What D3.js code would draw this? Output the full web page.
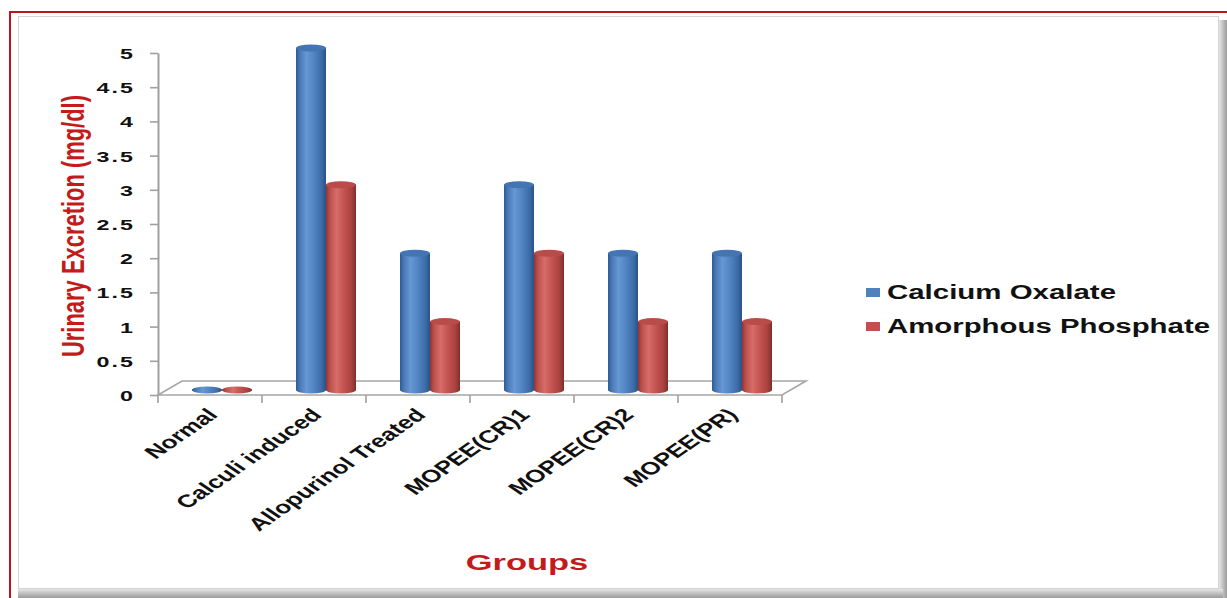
<!DOCTYPE html>
<html><head><meta charset="utf-8">
<script src="https://cdn.jsdelivr.net/npm/d3@7"></script>
<style>html,body{margin:0;padding:0;background:#fff;}svg{display:block;}</style>
</head><body>
<script>
const categories = ["Normal","Calculi induced","Allopurinol Treated","MOPEE(CR)1","MOPEE(CR)2","MOPEE(PR)"];
const seriesNames = ["Calcium Oxalate","Amorphous Phosphate"];
const calciumOxalate = [0,5,2,3,2,2];
const amorphousPhosphate = [0,3,1,2,1,1];
const yTickValues = [0,0.5,1,1.5,2,2.5,3,3.5,4,4.5,5];
const yTickLabels = ["0","0.5","1","1.5","2","2.5","3","3.5","4","4.5","5"];

const W = 1227, H = 598, SX = 1.45;
const svg = d3.select("body").append("svg").attr("width", W).attr("height", H);
const defs = svg.append("defs");

function cyl(id, stops){
  const g = defs.append("linearGradient").attr("id", id).attr("x1","0").attr("x2","1").attr("y1","0").attr("y2","0");
  stops.forEach(s => g.append("stop").attr("offset", s[0]).attr("stop-color", s[1]));
}
cyl("gBlue", [["0%","#2e5a92"],["12%","#4777b6"],["35%","#6797d3"],["60%","#5084c2"],["85%","#3c6ca8"],["100%","#2a5186"]]);
cyl("gRed", [["0%","#8e3532"],["12%","#bb4d4a"],["35%","#d66d69"],["60%","#c4534f"],["85%","#a8423f"],["100%","#7e2f2c"]]);
const bg = defs.append("linearGradient").attr("id","shB").attr("x1","0").attr("x2","0").attr("y1","0").attr("y2","1");
bg.append("stop").attr("offset","0%").attr("stop-color","#e6e6e6");
bg.append("stop").attr("offset","100%").attr("stop-color","#9a9a9a");
const rg = defs.append("linearGradient").attr("id","shR").attr("x1","0").attr("x2","1").attr("y1","0").attr("y2","0");
rg.append("stop").attr("offset","0%").attr("stop-color","#e6e6e6");
rg.append("stop").attr("offset","100%").attr("stop-color","#9a9a9a");

// frame
svg.append("rect").attr("x",1219).attr("y",20).attr("width",8).attr("height",578).attr("fill","url(#shR)");
svg.append("rect").attr("x",18).attr("y",589).attr("width",1205).attr("height",9).attr("fill","url(#shB)");
svg.append("rect").attr("x",18.5).attr("y",16.5).attr("width",1200).attr("height",572).attr("fill","#fff").attr("stroke","#d4d4d4");
svg.append("line").attr("x1",9).attr("x2",W).attr("y1",12).attr("y2",12).attr("stroke","#c0141b").attr("stroke-width",2);
svg.append("line").attr("x1",10).attr("x2",10).attr("y1",11).attr("y2",H).attr("stroke","#c0141b").attr("stroke-width",2);

// scales
const x = d3.scaleBand().domain(categories).range([158, 782]).paddingInner(0).paddingOuter(0);
const sub = d3.scaleBand().domain(seriesNames).range([22, 82]).paddingInner(0);
const y = d3.scaleLinear().domain([0, 5]).range([395, 53]);
const DX = 24, DY = 14, BX = 12, BY = 5;

// floor
const x0 = x.range()[0], x1 = x.range()[1], y0 = y(0);
svg.append("path")
  .attr("d", `M${x0},${y0}L${x1},${y0}L${x1+DX},${y0-DY}L${x0+DX},${y0-DY}Z`)
  .attr("fill","#fff").attr("stroke","#a6a6a6").attr("stroke-width",1.6);

// y axis
const yAxis = d3.axisLeft(y).tickValues(yTickValues).tickSize(8).tickSizeOuter(0)
  .tickFormat((d,i) => yTickLabels[i]);
const ya = svg.append("g").attr("transform", `translate(${x0},0)`).call(yAxis);
ya.select(".domain").attr("stroke","#a0a0a0").attr("stroke-width",2);
ya.selectAll(".tick line").attr("stroke","#a0a0a0").attr("stroke-width",1.6);
ya.selectAll(".tick text")
  .attr("x",0).attr("dy","0.36em")
  .attr("transform","translate(-23,0) scale(1.5,1)")
  .attr("font-family","'Liberation Sans', Arial, sans-serif").attr("font-weight","bold")
  .attr("font-size",15.5).attr("letter-spacing",1.4).attr("fill","#111");

// category boundary ticks
const bounds = categories.map(c => x(c)).concat([x1]);
svg.append("g").selectAll("line").data(bounds).join("line")
  .attr("x1", d => d).attr("x2", d => d).attr("y1", y0).attr("y2", y0 + 8)
  .attr("stroke","#a0a0a0").attr("stroke-width",1.6);

// bars
const series = [
  {name: seriesNames[0], values: calciumOxalate, grad: "url(#gBlue)", cap: "#4474b3"},
  {name: seriesNames[1], values: amorphousPhosphate, grad: "url(#gRed)", cap: "#b94c49"}
];
const bw = sub.bandwidth(), ry = 3.5;
const barData = [];
categories.forEach((c, i) => series.forEach(s => barData.push({c, v: s.values[i], s})));
const bars = svg.append("g").selectAll("g").data(barData).join("g");
bars.each(function(d){
  const g = d3.select(this);
  const left = x(d.c) + sub(d.s.name) + BX;
  const base = y(0) - BY, top = y(d.v) - BY;
  g.append("ellipse").attr("cx", left + bw/2).attr("cy", base).attr("rx", bw/2).attr("ry", ry).attr("fill", d.s.grad);
  if (top < base) g.append("rect").attr("x", left).attr("y", top).attr("width", bw).attr("height", base - top).attr("fill", d.s.grad);
  g.append("ellipse").attr("cx", left + bw/2).attr("cy", top).attr("rx", bw/2).attr("ry", d.v > 0 ? ry : 2.5).attr("fill", d.v > 0 ? d.s.cap : d.s.grad);
});

// category labels
svg.append("g").selectAll("text").data(categories).join("text")
  .attr("transform", d => `translate(${x(d) + x.bandwidth()/2 + 9},${y0 + 21}) scale(${SX},1) rotate(-45)`)
  .attr("text-anchor","end")
  .attr("font-family","'Liberation Sans', Arial, sans-serif").attr("font-weight","bold")
  .attr("font-size",18).attr("fill","#111")
  .text(d => d);

// axis titles
svg.append("text")
  .attr("transform", `translate(73,226) scale(${SX},1) rotate(-90)`)
  .attr("text-anchor","middle").attr("dy","0.35em")
  .attr("font-family","'Liberation Sans', Arial, sans-serif").attr("font-weight","bold")
  .attr("font-size",22).attr("fill","#c41a1a")
  .attr("textLength",262).attr("lengthAdjust","spacingAndGlyphs")
  .text("Urinary Excretion (mg/dl)");
svg.append("text")
  .attr("transform", `translate(527,570) scale(1.5,1)`)
  .attr("text-anchor","middle")
  .attr("font-family","'Liberation Sans', Arial, sans-serif").attr("font-weight","bold")
  .attr("font-size",23).attr("fill","#c41a1a")
  .text("Groups");

// legend
const legend = svg.append("g").selectAll("g").data(series).join("g")
  .attr("transform", (d,i) => `translate(866,${292 + i*34})`);
legend.append("rect").attr("x",0).attr("y",-4).attr("width",14).attr("height",9)
  .attr("fill", (d,i) => i === 0 ? "#4f81bd" : "#c0504d");
legend.append("text").attr("x",21).attr("y",7)
  .attr("font-family","'Liberation Sans', Arial, sans-serif").attr("font-weight","bold")
  .attr("font-size",20).attr("fill","#111")
  .attr("textLength",(d,i) => i === 0 ? 229 : 323).attr("lengthAdjust","spacingAndGlyphs")
  .text(d => d.name);
</script>
</body></html>
